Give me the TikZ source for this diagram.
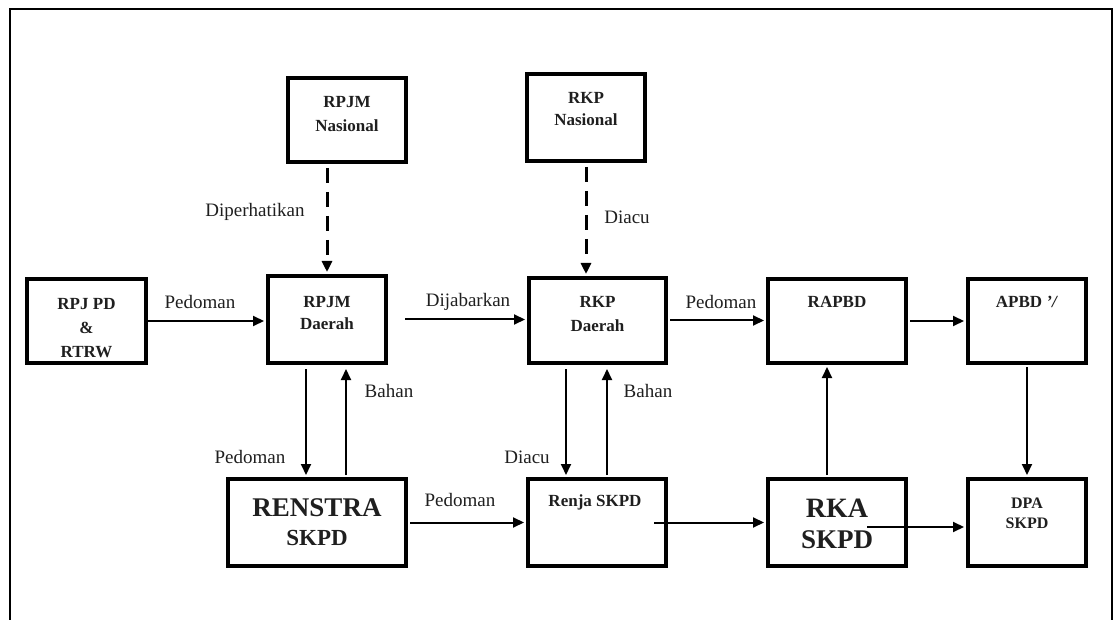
\documentclass[tikz,border=0pt]{standalone}
\usepackage{fontspec}
\setmainfont{Liberation Serif}
\usetikzlibrary{arrows.meta,calc}
\begin{document}
\begin{tikzpicture}[x=1pt,y=-1pt,
  box/.style={draw, line width=4pt, inner sep=0pt},
  arr/.style={line width=2pt, -{Triangle[length=11pt,width=10pt]}},
  darr/.style={line width=3pt, dash pattern=on 15pt off 9pt, -{Triangle[length=11pt,width=10pt]}},
  lbl/.style={font=\fontsize{19}{22}\selectfont, inner sep=0pt, text=black!88},
  btxt/.style={font=\bfseries\fontsize{17}{24}\selectfont, align=center, inner sep=0pt, text=black!88},
  bigtxt/.style={font=\bfseries\fontsize{27}{30}\selectfont, inner sep=0pt, text=black!88}]
\useasboundingbox (0,0) rectangle (1114,620);
% frame
\draw[line width=2pt] (10,620) -- (10,9) -- (1112,9) -- (1112,620);
% boxes
\node[box, minimum width=119pt, minimum height=84pt] (rpjpd) at (86.5,321) {};
\node[box, minimum width=118pt, minimum height=84pt] (rpjmn) at (347,120) {};
\node[box, minimum width=118pt, minimum height=87pt] (rpjmd) at (327,319.5) {};
\node[box, minimum width=118pt, minimum height=87pt] (rkpn) at (586,117.5) {};
\node[box, minimum width=137pt, minimum height=85pt] (rkpd) at (597.5,320.5) {};
\node[box, minimum width=138pt, minimum height=84pt] (rapbd) at (837,321) {};
\node[box, minimum width=118pt, minimum height=84pt] (apbd) at (1027,321) {};
\node[box, minimum width=178pt, minimum height=87pt] (renstra) at (317,522.5) {};
\node[box, minimum width=138pt, minimum height=87pt] (renja) at (597,522.5) {};
\node[box, minimum width=138pt, minimum height=87pt] (rka) at (837,522.5) {};
\node[box, minimum width=118pt, minimum height=87pt] (dpa) at (1027,522.5) {};
% box texts
\node[btxt] (trpjpd) at (86.5,328) {RPJ PD\\\&\\RTRW};
\node[btxt] (trpjmn) at (347,114) {RPJM\\Nasional};
\node[btxt, font=\bfseries\fontsize{17}{22}\selectfont] (trpjmd) at (327,313) {RPJM\\Daerah};
\node[btxt, font=\bfseries\fontsize{17}{22}\selectfont] (trkpn) at (586,109) {RKP\\Nasional};
\node[btxt, font=\bfseries\fontsize{17}{24}\selectfont] (trkpd) at (597.5,314.5) {RKP\\Daerah};
\node[btxt] (trapbd) at (837,302) {RAPBD};
\node[btxt] (tapbd) at (1027,302) {APBD \textit{\textquoteright/}};
\node[bigtxt] (trenstra1) at (317,508) {RENSTRA};
\node[bigtxt, font=\bfseries\fontsize{23}{26}\selectfont] (trenstra2) at (317,538) {SKPD};
\node[btxt] (trenja) at (595,502) {Renja SKPD};
\node[bigtxt, font=\bfseries\fontsize{28}{30}\selectfont] (trka1) at (837,508) {RKA};
\node[bigtxt, font=\bfseries\fontsize{27}{30}\selectfont] (trka2) at (837,540) {SKPD};
\node[btxt, font=\bfseries\fontsize{16}{20}\selectfont] (tdpa) at (1027,513) {DPA\\SKPD};
% connectors
\draw[darr] ([yshift=-4pt]rpjmn.south -| rpjmd.north) -- ([yshift=2pt]rpjmd.north);
\draw[darr] ([yshift=-4pt]rkpn.south) -- ([yshift=2pt]rkpn.south |- rkpd.north);
\draw[arr] (rpjpd.east) -- ([xshift=-2pt]rpjpd.east -| rpjmd.west);
\draw[arr] ([xshift=17pt]rpjmd.east) -- ([xshift=-2pt]rpjmd.east -| rkpd.west);
\draw[arr] ([xshift=2pt]rkpd.east) -- ([xshift=-2pt]rkpd.east -| rapbd.west);
\draw[arr] ([xshift=2pt]rapbd.east) -- ([xshift=-2pt]apbd.west);
\draw[arr] ([xshift=-21pt,yshift=-4pt]rpjmd.south) -- ([xshift=-21pt,yshift=2pt]rpjmd.south |- renstra.north);
\draw[arr] ([xshift=19pt,yshift=2pt]rpjmd.south |- renstra.north) -- ([xshift=19pt,yshift=-4pt]rpjmd.south);
\draw[arr] ([xshift=-31.5pt,yshift=-4pt]rkpd.south) -- ([xshift=-31.5pt,yshift=2pt]rkpd.south |- renja.north);
\draw[arr] ([xshift=9.5pt,yshift=2pt]rkpd.south |- renja.north) -- ([xshift=9.5pt,yshift=-4pt]rkpd.south);
\draw[arr] ([xshift=2pt]renstra.east) -- ([xshift=-2pt]renja.west);
\draw[arr] ([xshift=57pt]renja.center) -- ([xshift=-2pt]renja.center -| rka.west);
\draw[arr] ([xshift=-10pt,yshift=2pt]rka.north) -- ([xshift=-10pt,yshift=-2pt]rka.north |- rapbd.south);
\draw[arr] ([yshift=-2pt]apbd.south) -- ([yshift=2pt]dpa.north);
\draw[arr] ([xshift=30pt,yshift=-4.5pt]rka.center) -- ([xshift=-2pt,yshift=-4.5pt]rka.center -| dpa.west);
% labels
\node[lbl] (l1) at (255,212) {Diperhatikan};
\node[lbl] (l2) at (627,217) {Diacu};
\node[lbl] (l3) at (200,302) {Pedoman};
\node[lbl] (l4) at (468,302) {Dijabarkan};
\node[lbl] (l5) at (721,302) {Pedoman};
\node[lbl] (l6) at (250,457) {Pedoman};
\node[lbl] (l7) at (389,391) {Bahan};
\node[lbl] (l8) at (527,457) {Diacu};
\node[lbl] (l9) at (648,391) {Bahan};
\node[lbl] (l10) at (460,500) {Pedoman};
\end{tikzpicture}
\end{document}
